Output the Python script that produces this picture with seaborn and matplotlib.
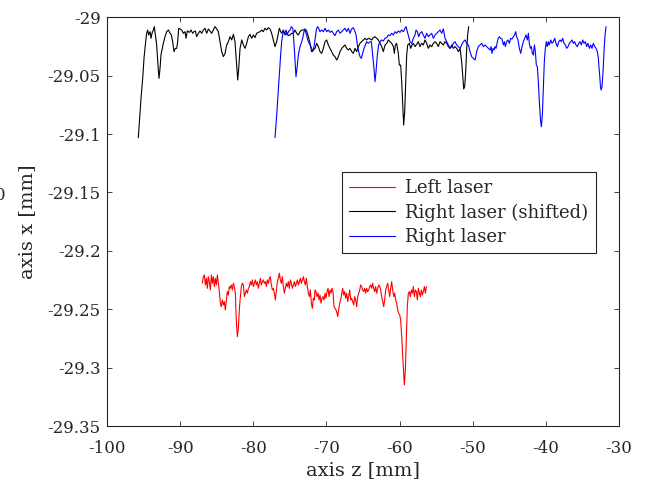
import matplotlib
matplotlib.use("Agg")
import matplotlib.pyplot as plt
from matplotlib.ticker import FuncFormatter
import pandas as pd
import seaborn as sns

# Measured profiles: (axis z [mm], axis x [mm])
left_laser = [
    (-86.97, -29.2278), (-86.83, -29.2221), (-86.69, -29.2206), (-86.55, -29.2292), (-86.42, -29.2235),
    (-86.28, -29.2321), (-86.15, -29.2221), (-86.01, -29.2264), (-85.87, -29.2335), (-85.73, -29.2206),
    (-85.60, -29.2278), (-85.46, -29.2221), (-85.32, -29.2306), (-85.19, -29.2235), (-85.05, -29.2292),
    (-84.91, -29.2206), (-84.78, -29.2278), (-84.64, -29.2349), (-84.50, -29.2449), (-84.37, -29.2478),
    (-84.23, -29.2421), (-84.09, -29.2463), (-83.96, -29.2435), (-83.82, -29.2506), (-83.68, -29.2421),
    (-83.55, -29.2349), (-83.41, -29.2378), (-83.27, -29.2306), (-83.14, -29.2321), (-83.00, -29.2292),
    (-82.86, -29.2335), (-82.73, -29.2278), (-82.59, -29.2306), (-82.45, -29.2363), (-82.36, -29.2535),
    (-82.27, -29.2649), (-82.18, -29.2735), (-82.04, -29.2663), (-81.91, -29.2506), (-81.77, -29.2392),
    (-81.63, -29.2306), (-81.50, -29.2278), (-81.36, -29.2292), (-81.22, -29.2392), (-81.09, -29.2363),
    (-80.95, -29.2335), (-80.81, -29.2363), (-80.67, -29.2321), (-80.54, -29.2306), (-80.40, -29.2264),
    (-80.27, -29.2292), (-80.13, -29.2249), (-79.99, -29.2306), (-79.85, -29.2278), (-79.72, -29.2249),
    (-79.58, -29.2292), (-79.44, -29.2264), (-79.31, -29.2321), (-79.17, -29.2278), (-79.03, -29.2235),
    (-78.90, -29.2292), (-78.76, -29.2264), (-78.62, -29.2249), (-78.49, -29.2278), (-78.35, -29.2264),
    (-78.21, -29.2306), (-78.08, -29.2249), (-77.94, -29.2278), (-77.80, -29.2235), (-77.67, -29.2221),
    (-77.53, -29.2292), (-77.39, -29.2335), (-77.26, -29.2321), (-77.12, -29.2363), (-76.98, -29.2421),
    (-76.85, -29.2349), (-76.71, -29.2264), (-76.57, -29.2235), (-76.44, -29.2192), (-76.30, -29.2249),
    (-76.16, -29.2278), (-76.03, -29.2221), (-75.89, -29.2306), (-75.75, -29.2363), (-75.62, -29.2321),
    (-75.48, -29.2278), (-75.34, -29.2306), (-75.21, -29.2264), (-75.07, -29.2321), (-74.93, -29.2249),
    (-74.79, -29.2278), (-74.66, -29.2321), (-74.52, -29.2292), (-74.38, -29.2264), (-74.25, -29.2306),
    (-74.11, -29.2278), (-73.97, -29.2249), (-73.84, -29.2292), (-73.70, -29.2264), (-73.56, -29.2235),
    (-73.43, -29.2278), (-73.29, -29.2249), (-73.15, -29.2221), (-73.02, -29.2264), (-72.88, -29.2292),
    (-72.74, -29.2235), (-72.61, -29.2306), (-72.47, -29.2363), (-72.33, -29.2392), (-72.20, -29.2335),
    (-72.06, -29.2449), (-71.92, -29.2492), (-71.79, -29.2406), (-71.65, -29.2421), (-71.56, -29.2335),
    (-71.42, -29.2349), (-71.29, -29.2392), (-71.15, -29.2363), (-71.01, -29.2421), (-70.88, -29.2378),
    (-70.74, -29.2449), (-70.60, -29.2406), (-70.47, -29.2392), (-70.33, -29.2421), (-70.19, -29.2363),
    (-70.06, -29.2406), (-69.92, -29.2349), (-69.78, -29.2321), (-69.65, -29.2392), (-69.51, -29.2335),
    (-69.37, -29.2363), (-69.24, -29.2321), (-69.10, -29.2349), (-68.96, -29.2478), (-68.83, -29.2492),
    (-68.69, -29.2506), (-68.55, -29.2535), (-68.46, -29.2563), (-68.32, -29.2506), (-68.19, -29.2449),
    (-68.05, -29.2421), (-67.91, -29.2363), (-67.78, -29.2321), (-67.64, -29.2378), (-67.50, -29.2349),
    (-67.37, -29.2406), (-67.23, -29.2363), (-67.09, -29.2435), (-66.96, -29.2392), (-66.82, -29.2335),
    (-66.68, -29.2421), (-66.55, -29.2406), (-66.41, -29.2435), (-66.27, -29.2463), (-66.14, -29.2392),
    (-66.00, -29.2421), (-65.86, -29.2478), (-65.73, -29.2392), (-65.59, -29.2363), (-65.45, -29.2335),
    (-65.32, -29.2292), (-65.18, -29.2306), (-65.04, -29.2335), (-64.91, -29.2349), (-64.77, -29.2321),
    (-64.63, -29.2363), (-64.50, -29.2321), (-64.36, -29.2349), (-64.22, -29.2335), (-64.09, -29.2306),
    (-63.95, -29.2292), (-63.81, -29.2321), (-63.68, -29.2278), (-63.54, -29.2321), (-63.40, -29.2349),
    (-63.27, -29.2306), (-63.13, -29.2363), (-62.99, -29.2321), (-62.85, -29.2292), (-62.72, -29.2306),
    (-62.58, -29.2335), (-62.45, -29.2392), (-62.31, -29.2435), (-62.17, -29.2478), (-62.04, -29.2421),
    (-61.90, -29.2335), (-61.76, -29.2306), (-61.62, -29.2278), (-61.49, -29.2335), (-61.35, -29.2392),
    (-61.21, -29.2321), (-61.08, -29.2264), (-60.94, -29.2335), (-60.80, -29.2392), (-60.67, -29.2363),
    (-60.53, -29.2421), (-60.39, -29.2449), (-60.26, -29.2506), (-60.12, -29.2535), (-59.98, -29.2549),
    (-59.85, -29.2592), (-59.71, -29.2735), (-59.57, -29.2906), (-59.44, -29.3049), (-59.35, -29.3149),
    (-59.21, -29.3020), (-59.07, -29.2735), (-58.94, -29.2478), (-58.80, -29.2363), (-58.66, -29.2349),
    (-58.53, -29.2392), (-58.39, -29.2335), (-58.25, -29.2363), (-58.12, -29.2306), (-57.98, -29.2392),
    (-57.84, -29.2335), (-57.70, -29.2349), (-57.57, -29.2421), (-57.43, -29.2321), (-57.29, -29.2363),
    (-57.16, -29.2392), (-57.02, -29.2335), (-56.88, -29.2378), (-56.75, -29.2349), (-56.61, -29.2306),
    (-56.47, -29.2363), (-56.34, -29.2306),
]

right_laser_shifted = [
    (-95.72, -29.1031), (-95.35, -29.0694), (-95.12, -29.0523), (-94.94, -29.0351), (-94.76, -29.0237),
    (-94.58, -29.0137), (-94.44, -29.0109), (-94.30, -29.0151), (-94.12, -29.0123), (-93.98, -29.0180),
    (-93.85, -29.0137), (-93.66, -29.0109), (-93.53, -29.0080), (-93.39, -29.0151), (-93.21, -29.0237),
    (-93.03, -29.0409), (-92.89, -29.0523), (-92.75, -29.0437), (-92.62, -29.0323), (-92.43, -29.0266),
    (-92.30, -29.0223), (-92.07, -29.0166), (-91.84, -29.0123), (-91.61, -29.0109), (-91.38, -29.0137),
    (-91.20, -29.0151), (-91.02, -29.0209), (-90.84, -29.0294), (-90.66, -29.0266), (-90.47, -29.0266),
    (-90.34, -29.0209), (-90.20, -29.0094), (-90.02, -29.0100), (-89.79, -29.0109), (-89.56, -29.0137),
    (-89.33, -29.0123), (-89.20, -29.0180), (-89.02, -29.0117), (-88.74, -29.0129), (-88.51, -29.0109),
    (-88.29, -29.0137), (-88.10, -29.0123), (-87.92, -29.0117), (-87.74, -29.0166), (-87.51, -29.0137),
    (-87.28, -29.0117), (-87.05, -29.0137), (-86.83, -29.0109), (-86.60, -29.0094), (-86.37, -29.0137),
    (-86.14, -29.0100), (-85.92, -29.0117), (-85.69, -29.0137), (-85.46, -29.0109), (-85.23, -29.0080),
    (-85.00, -29.0100), (-84.78, -29.0123), (-84.55, -29.0209), (-84.32, -29.0294), (-84.09, -29.0337),
    (-83.86, -29.0309), (-83.64, -29.0237), (-83.41, -29.0209), (-83.18, -29.0166), (-82.95, -29.0194),
    (-82.72, -29.0146), (-82.50, -29.0209), (-82.27, -29.0409), (-82.13, -29.0537), (-81.99, -29.0437),
    (-81.81, -29.0266), (-81.58, -29.0194), (-81.35, -29.0237), (-81.13, -29.0266), (-80.90, -29.0223),
    (-80.67, -29.0166), (-80.45, -29.0146), (-80.22, -29.0180), (-79.99, -29.0151), (-79.77, -29.0174),
    (-79.54, -29.0137), (-79.31, -29.0129), (-79.08, -29.0123), (-78.85, -29.0109), (-78.63, -29.0123),
    (-78.40, -29.0094), (-78.17, -29.0109), (-77.94, -29.0089), (-77.71, -29.0100), (-77.49, -29.0137),
    (-77.26, -29.0194), (-77.03, -29.0251), (-76.80, -29.0209), (-76.57, -29.0137), (-76.44, -29.0094),
    (-76.26, -29.0123), (-76.12, -29.0137), (-75.89, -29.0109), (-75.66, -29.0151), (-75.43, -29.0137),
    (-75.21, -29.0157), (-74.98, -29.0151), (-74.75, -29.0137), (-74.52, -29.0137), (-74.30, -29.0109),
    (-74.07, -29.0137), (-73.84, -29.0151), (-73.61, -29.0123), (-73.38, -29.0109), (-73.16, -29.0109),
    (-72.93, -29.0100), (-72.70, -29.0117), (-72.47, -29.0166), (-72.24, -29.0223), (-72.02, -29.0294),
    (-71.79, -29.0280), (-71.56, -29.0266), (-71.33, -29.0223), (-71.11, -29.0251), (-70.88, -29.0294),
    (-70.65, -29.0309), (-70.42, -29.0266), (-70.19, -29.0209), (-69.97, -29.0194), (-69.74, -29.0237),
    (-69.51, -29.0266), (-69.28, -29.0294), (-69.06, -29.0323), (-68.83, -29.0337), (-68.60, -29.0366),
    (-68.37, -29.0337), (-68.14, -29.0294), (-67.91, -29.0266), (-67.69, -29.0251), (-67.46, -29.0237),
    (-67.23, -29.0266), (-67.00, -29.0280), (-66.78, -29.0266), (-66.55, -29.0294), (-66.32, -29.0309),
    (-66.09, -29.0266), (-65.86, -29.0294), (-65.63, -29.0251), (-65.41, -29.0223), (-65.18, -29.0209),
    (-64.95, -29.0194), (-64.72, -29.0180), (-64.50, -29.0194), (-64.27, -29.0180), (-64.04, -29.0186),
    (-63.81, -29.0194), (-63.59, -29.0174), (-63.36, -29.0166), (-63.13, -29.0180), (-62.90, -29.0194),
    (-62.67, -29.0223), (-62.45, -29.0251), (-62.22, -29.0294), (-61.99, -29.0237), (-61.76, -29.0223),
    (-61.54, -29.0194), (-61.31, -29.0209), (-61.08, -29.0223), (-60.85, -29.0251), (-60.71, -29.0309),
    (-60.58, -29.0237), (-60.40, -29.0223), (-60.17, -29.0309), (-60.03, -29.0409), (-59.85, -29.0409),
    (-59.71, -29.0551), (-59.57, -29.0751), (-59.44, -29.0923), (-59.30, -29.0809), (-59.16, -29.0551),
    (-59.03, -29.0323), (-58.89, -29.0237), (-58.66, -29.0223), (-58.48, -29.0266), (-58.30, -29.0237),
    (-58.12, -29.0223), (-57.89, -29.0251), (-57.66, -29.0231), (-57.43, -29.0209), (-57.21, -29.0251),
    (-56.98, -29.0223), (-56.75, -29.0237), (-56.52, -29.0194), (-56.29, -29.0223), (-56.07, -29.0266),
    (-55.84, -29.0237), (-55.61, -29.0251), (-55.38, -29.0223), (-55.15, -29.0209), (-54.93, -29.0223),
    (-54.70, -29.0251), (-54.47, -29.0209), (-54.24, -29.0223), (-54.01, -29.0237), (-53.79, -29.0209),
    (-53.56, -29.0223), (-53.33, -29.0251), (-53.10, -29.0266), (-52.87, -29.0237), (-52.65, -29.0266),
    (-52.42, -29.0251), (-52.19, -29.0266), (-51.96, -29.0294), (-51.73, -29.0266), (-51.51, -29.0380),
    (-51.37, -29.0494), (-51.23, -29.0614), (-51.10, -29.0594), (-50.96, -29.0466), (-50.82, -29.0266),
    (-50.69, -29.0151), (-50.55, -29.0080),
]

right_laser = [
    (-77.03, -29.1031), (-76.80, -29.0837), (-76.57, -29.0609), (-76.44, -29.0494), (-76.26, -29.0323),
    (-76.12, -29.0209), (-75.98, -29.0151), (-75.89, -29.0123), (-75.66, -29.0137), (-75.53, -29.0109),
    (-75.34, -29.0151), (-75.21, -29.0123), (-74.98, -29.0109), (-74.80, -29.0080), (-74.61, -29.0094),
    (-74.52, -29.0151), (-74.39, -29.0266), (-74.25, -29.0409), (-74.16, -29.0509), (-74.02, -29.0437),
    (-73.84, -29.0323), (-73.61, -29.0251), (-73.38, -29.0209), (-73.25, -29.0180), (-73.07, -29.0123),
    (-72.93, -29.0109), (-72.79, -29.0137), (-72.61, -29.0180), (-72.47, -29.0209), (-72.24, -29.0237),
    (-72.02, -29.0266), (-71.88, -29.0294), (-71.70, -29.0251), (-71.56, -29.0194), (-71.42, -29.0123),
    (-71.33, -29.0094), (-71.20, -29.0080), (-71.06, -29.0094), (-70.88, -29.0123), (-70.65, -29.0109),
    (-70.42, -29.0123), (-70.19, -29.0094), (-69.97, -29.0123), (-69.74, -29.0109), (-69.51, -29.0129),
    (-69.28, -29.0117), (-69.06, -29.0137), (-68.83, -29.0157), (-68.60, -29.0123), (-68.37, -29.0109),
    (-68.14, -29.0137), (-67.91, -29.0123), (-67.69, -29.0109), (-67.46, -29.0094), (-67.23, -29.0123),
    (-67.00, -29.0094), (-66.78, -29.0137), (-66.55, -29.0100), (-66.32, -29.0089), (-66.09, -29.0123),
    (-65.95, -29.0151), (-65.77, -29.0237), (-65.59, -29.0294), (-65.41, -29.0337), (-65.23, -29.0351),
    (-65.04, -29.0309), (-64.86, -29.0266), (-64.68, -29.0237), (-64.50, -29.0209), (-64.27, -29.0223),
    (-64.04, -29.0209), (-63.86, -29.0209), (-63.68, -29.0323), (-63.50, -29.0437), (-63.36, -29.0551),
    (-63.22, -29.0466), (-63.04, -29.0323), (-62.86, -29.0237), (-62.67, -29.0209), (-62.45, -29.0194),
    (-62.22, -29.0203), (-61.99, -29.0180), (-61.76, -29.0174), (-61.54, -29.0151), (-61.31, -29.0157),
    (-61.08, -29.0137), (-60.85, -29.0151), (-60.62, -29.0123), (-60.40, -29.0137), (-60.17, -29.0117),
    (-59.94, -29.0129), (-59.71, -29.0109), (-59.48, -29.0123), (-59.26, -29.0094), (-59.12, -29.0080),
    (-58.94, -29.0123), (-58.76, -29.0166), (-58.57, -29.0209), (-58.34, -29.0223), (-58.12, -29.0180),
    (-57.89, -29.0151), (-57.75, -29.0109), (-57.57, -29.0123), (-57.39, -29.0166), (-57.21, -29.0137),
    (-56.98, -29.0123), (-56.75, -29.0151), (-56.52, -29.0180), (-56.29, -29.0137), (-56.07, -29.0166),
    (-55.84, -29.0151), (-55.61, -29.0137), (-55.38, -29.0180), (-55.15, -29.0151), (-54.93, -29.0137),
    (-54.70, -29.0123), (-54.47, -29.0109), (-54.24, -29.0137), (-54.01, -29.0100), (-53.79, -29.0180),
    (-53.56, -29.0209), (-53.33, -29.0237), (-53.10, -29.0266), (-52.87, -29.0251), (-52.65, -29.0223),
    (-52.42, -29.0209), (-52.19, -29.0237), (-51.96, -29.0251), (-51.73, -29.0266), (-51.51, -29.0237),
    (-51.28, -29.0209), (-51.05, -29.0194), (-50.82, -29.0223), (-50.59, -29.0237), (-50.37, -29.0294),
    (-50.14, -29.0337), (-49.91, -29.0351), (-49.68, -29.0366), (-49.46, -29.0294), (-49.23, -29.0251),
    (-49.00, -29.0237), (-48.77, -29.0223), (-48.54, -29.0251), (-48.32, -29.0237), (-48.09, -29.0251),
    (-47.86, -29.0266), (-47.63, -29.0280), (-47.50, -29.0251), (-47.36, -29.0309), (-47.22, -29.0266),
    (-47.09, -29.0280), (-46.95, -29.0251), (-46.81, -29.0266), (-46.63, -29.0209), (-46.50, -29.0180),
    (-46.36, -29.0166), (-46.18, -29.0180), (-45.99, -29.0186), (-45.81, -29.0237), (-45.67, -29.0209),
    (-45.54, -29.0251), (-45.36, -29.0209), (-45.17, -29.0194), (-44.99, -29.0223), (-44.81, -29.0180),
    (-44.63, -29.0186), (-44.44, -29.0166), (-44.26, -29.0151), (-44.13, -29.0123), (-43.99, -29.0166),
    (-43.81, -29.0194), (-43.62, -29.0266), (-43.44, -29.0309), (-43.26, -29.0251), (-43.08, -29.0209),
    (-42.89, -29.0180), (-42.71, -29.0151), (-42.53, -29.0194), (-42.39, -29.0137), (-42.26, -29.0223),
    (-42.12, -29.0266), (-41.98, -29.0251), (-41.85, -29.0309), (-41.71, -29.0323), (-41.57, -29.0237),
    (-41.44, -29.0294), (-41.30, -29.0409), (-41.16, -29.0423), (-41.03, -29.0551), (-40.89, -29.0723),
    (-40.75, -29.0866), (-40.62, -29.0937), (-40.48, -29.0837), (-40.34, -29.0609), (-40.21, -29.0380),
    (-40.07, -29.0266), (-39.93, -29.0209), (-39.80, -29.0251), (-39.66, -29.0209), (-39.52, -29.0237),
    (-39.34, -29.0194), (-39.16, -29.0223), (-38.97, -29.0209), (-38.79, -29.0180), (-38.61, -29.0223),
    (-38.43, -29.0251), (-38.24, -29.0209), (-38.06, -29.0194), (-37.88, -29.0209), (-37.70, -29.0180),
    (-37.52, -29.0223), (-37.33, -29.0237), (-37.15, -29.0266), (-36.97, -29.0251), (-36.79, -29.0223),
    (-36.60, -29.0209), (-36.42, -29.0194), (-36.24, -29.0223), (-36.06, -29.0209), (-35.88, -29.0237),
    (-35.69, -29.0251), (-35.51, -29.0223), (-35.33, -29.0209), (-35.15, -29.0237), (-34.96, -29.0194),
    (-34.78, -29.0223), (-34.60, -29.0209), (-34.42, -29.0251), (-34.24, -29.0223), (-34.05, -29.0266),
    (-33.87, -29.0237), (-33.69, -29.0266), (-33.51, -29.0223), (-33.32, -29.0251), (-33.14, -29.0266),
    (-32.96, -29.0294), (-32.82, -29.0351), (-32.73, -29.0437), (-32.64, -29.0494), (-32.55, -29.0580),
    (-32.45, -29.0623), (-32.32, -29.0594), (-32.18, -29.0466), (-32.05, -29.0294), (-31.91, -29.0151),
    (-31.77, -29.0080),
]

series_names = ["Left laser", "Right laser (shifted)", "Right laser"]
series_colors = ["#ff0000", "#000000", "#0000ff"]
x_ticks = [-100, -90, -80, -70, -60, -50, -40, -30]
y_ticks = [-29.35, -29.3, -29.25, -29.2, -29.15, -29.1, -29.05, -29.0]

frames = []
for name, profile in zip(series_names, [left_laser, right_laser_shifted, right_laser]):
    df = pd.DataFrame(profile, columns=["z", "x"])
    df["series"] = name
    frames.append(df)
data = pd.concat(frames, ignore_index=True)

sns.set_theme(style="white")
plt.rcParams["font.family"] = ["DejaVu Serif"]
plt.rcParams["axes.unicode_minus"] = False

fig = plt.figure(figsize=(6.51, 4.86), dpi=100)
ax = fig.add_axes([107 / 651, 1 - 426 / 486, 512 / 651, 408.7 / 486])

for name, color in zip(series_names, series_colors):
    sub = data[data["series"] == name]
    sns.lineplot(data=sub, x="z", y="x", color=color, linewidth=0.8,
                 label=name, sort=False, estimator=None, ax=ax)

ax.set_xlim(-100, -30)
ax.set_ylim(-29.35, -29.0)
ax.set_xticks(x_ticks)
ax.set_yticks(y_ticks)
fmt = FuncFormatter(lambda v, _: "%g" % round(v, 4))
ax.xaxis.set_major_formatter(fmt)
ax.yaxis.set_major_formatter(fmt)

edge = "#262626"
for sp in ax.spines.values():
    sp.set_visible(True)
    sp.set_color(edge)
    sp.set_linewidth(0.8)
ax.tick_params(axis="both", which="major", direction="in", length=3.5, width=0.6,
               color=edge, labelcolor=edge, labelsize=12, top=True, right=True,
               bottom=True, left=True)
ax.tick_params(axis="x", pad=10)
ax.tick_params(axis="y", pad=4.5)

ax.set_xlabel("axis z [mm]", fontsize=14, color=edge, labelpad=3)
ax.set_ylabel("axis x [mm]", fontsize=14, color=edge, labelpad=8)

leg = ax.legend(loc="upper left", bbox_to_anchor=(0.459, 0.622), borderaxespad=0,
                fontsize=13, frameon=True, fancybox=False, framealpha=1,
                edgecolor=edge, handlelength=2.55, handletextpad=0.55,
                labelspacing=0.36, borderpad=0.4)
leg.get_frame().set_linewidth(0.8)
for t in leg.get_texts():
    t.set_color(edge)

fig.text(0.0, 1 - 196 / 486, "0", fontsize=12, color=edge, ha="center", va="center")

fig.savefig("out.png", dpi=100, facecolor="white")
